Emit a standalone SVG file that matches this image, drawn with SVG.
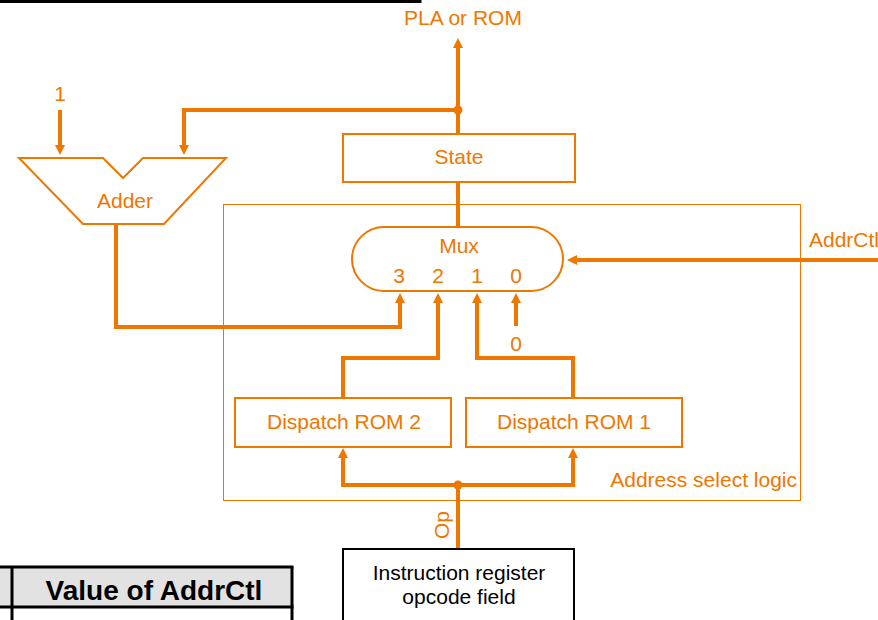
<svg xmlns="http://www.w3.org/2000/svg" width="878" height="620" viewBox="0 0 878 620">
  <style>
    .box { fill: #ffffff; stroke: #EE7700; stroke-width: 2; }
    .frame { fill: none; stroke: #EE7700; stroke-width: 1; }
    .wire { fill: none; stroke: #EE7700; stroke-width: 4; stroke-linejoin: miter; }
    .lbl { font-family: "Liberation Sans", Arial, sans-serif; font-size: 21px; fill: #EE7700; }
    .mid { text-anchor: middle; }
    .blk { font-family: "Liberation Sans", Arial, sans-serif; font-size: 21px; fill: #000000; text-anchor: middle; }
    .rule { stroke: #000000; stroke-width: 3; fill: none; }
  </style>
  <defs>
    <marker id="head" markerUnits="userSpaceOnUse" markerWidth="12" markerHeight="12" refX="2" refY="5" orient="auto">
      <path d="M0,0 L10,5 L0,10 z" fill="#EE7700"/>
    </marker>
  </defs>

  <!-- table fragments at the page edges -->
  <g id="table-top">
    <line class="rule" x1="0" y1="1.5" x2="421" y2="1.5"/>
    <line class="rule" x1="257" y1="0" x2="257" y2="3"/>
    <line class="rule" x1="420" y1="0" x2="420" y2="3"/>
  </g>
  <g id="table-bottom">
    <rect x="0" y="567" width="292" height="40" fill="#E2E2E2"/>
    <line class="rule" x1="0" y1="567" x2="293.5" y2="567"/>
    <line class="rule" x1="0" y1="607" x2="293.5" y2="607"/>
    <line class="rule" x1="12" y1="567" x2="12" y2="620"/>
    <line class="rule" x1="292" y1="567" x2="292" y2="620"/>
    <text x="154" y="600" font-family="'Liberation Sans', Arial, sans-serif" font-size="28" font-weight="bold" text-anchor="middle" fill="#000000">Value of AddrCtl</text>
  </g>

  <!-- address select logic frame -->
  <g id="address-select">
    <rect class="frame" x="223.5" y="204.5" width="577" height="296"/>
    <text class="lbl" x="797" y="487" text-anchor="end" font-size="20.5">Address select logic</text>
  </g>

  <!-- connectors -->
  <g id="connectors">
    <path class="wire" d="M458,134 V46" marker-end="url(#head)"/>
    <path class="wire" d="M458,110 H184 V147" marker-end="url(#head)"/>
    <path class="wire" d="M60,110 V147" marker-end="url(#head)"/>
    <path class="wire" d="M458,182 V227"/>
    <path class="wire" d="M116,224 V327 H400 V301" marker-end="url(#head)"/>
    <path class="wire" d="M343,398 V358 H438 V301" marker-end="url(#head)"/>
    <path class="wire" d="M573,398 V358 H477 V301" marker-end="url(#head)"/>
    <path class="wire" d="M516,326 V301" marker-end="url(#head)"/>
    <path class="wire" d="M880,260 H575" marker-end="url(#head)"/>
    <path class="wire" d="M458,549 V485"/>
    <path class="wire" d="M458,485 H343 V456" marker-end="url(#head)"/>
    <path class="wire" d="M458,485 H573 V456" marker-end="url(#head)"/>
    <circle cx="458" cy="110" r="4.5" fill="#EE7700"/>
    <circle cx="458" cy="485" r="4.5" fill="#EE7700"/>
  </g>

  <!-- free labels -->
  <g id="labels">
    <text class="lbl mid" x="463" y="25">PLA or ROM</text>
    <text class="lbl mid" x="60" y="101">1</text>
    <text class="lbl" x="809" y="247">AddrCtl</text>
    <text class="lbl mid" x="516" y="351">0</text>
    <text class="lbl mid" transform="translate(449,525) rotate(-90)">Op</text>
  </g>

  <g id="adder">
    <path class="box" d="M19,158 H103 L123,178 L143,158 H226 L164,224 H83 Z"/>
    <text class="lbl mid" x="125" y="208">Adder</text>
  </g>

  <g id="state">
    <rect class="box" x="343" y="134" width="232" height="48"/>
    <text class="lbl mid" x="459" y="164">State</text>
  </g>

  <g id="mux">
    <rect class="box" x="352" y="227" width="211" height="64" rx="32" ry="32"/>
    <text class="lbl mid" x="459" y="253">Mux</text>
    <text class="lbl mid" x="399" y="283">3</text>
    <text class="lbl mid" x="438" y="283">2</text>
    <text class="lbl mid" x="477" y="283">1</text>
    <text class="lbl mid" x="516" y="283">0</text>
  </g>

  <g id="dispatch-rom-2">
    <rect class="box" x="235" y="398" width="216" height="49"/>
    <text class="lbl mid" x="344" y="429">Dispatch ROM 2</text>
  </g>

  <g id="dispatch-rom-1">
    <rect class="box" x="466" y="398" width="216" height="49"/>
    <text class="lbl mid" x="574" y="429">Dispatch ROM 1</text>
  </g>

  <g id="instruction-register">
    <rect x="343" y="549" width="231" height="80" fill="#ffffff" stroke="#000000" stroke-width="2"/>
    <text class="blk" x="459" y="580">Instruction register</text>
    <text class="blk" x="459" y="604">opcode field</text>
  </g>
</svg>
